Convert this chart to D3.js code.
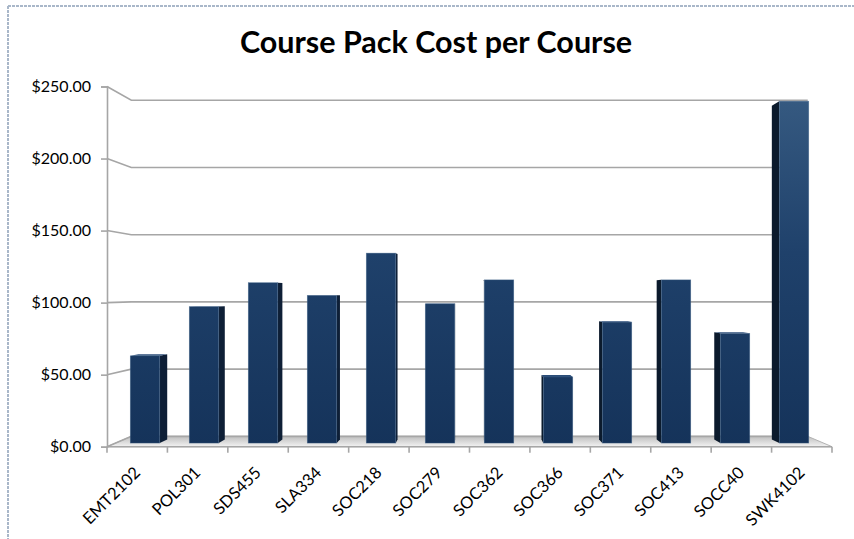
<!DOCTYPE html>
<html>
<head>
<meta charset="utf-8">
<script src="https://cdn.jsdelivr.net/npm/d3@7/dist/d3.min.js"></script>
<style>
  html, body { margin: 0; padding: 0; background: #ffffff; }
  svg { display: block; }
</style>
</head>
<body>
<script>
// ---- data ----
const categories = ["EMT2102", "POL301", "SDS455", "SLA334", "SOC218", "SOC279",
                    "SOC362", "SOC366", "SOC371", "SOC413", "SOCC40", "SWK4102"];
const costs = [62, 97, 114, 105, 135, 99, 116, 47, 86, 116, 78, 243];
const yTicks = [0, 50, 100, 150, 200, 250];
const title = "Course Pack Cost per Course";

const W = 854, H = 539;
const svg = d3.select("body").append("svg").attr("width", W).attr("height", H);

// front-plane scales
const x = d3.scaleBand().domain(categories).range([107, 832]).paddingInner(0.5).paddingOuter(0.25);
const y = d3.scaleLinear().domain([0, 250]).range([446.7, 86.5]);

// simple perspective towards a vanishing point
const VP = [470, 292];
const sBack = 0.933;
function project(px, py, t) {
  const k = 1 - t * (1 - sBack);
  return [VP[0] + (px - VP[0]) * k, VP[1] + (py - VP[1]) * k];
}
const t0 = 0.35, t1 = 0.70;
const poly = pts => "M" + pts.map(p => p.join(",")).join("L") + "Z";

const defs = svg.append("defs");
const gFront = defs.append("linearGradient").attr("id", "barFront")
  .attr("gradientUnits", "userSpaceOnUse").attr("x1", 0).attr("y1", 95).attr("x2", 0).attr("y2", 445);
gFront.append("stop").attr("offset", 0).attr("stop-color", "#365a81");
gFront.append("stop").attr("offset", 0.45).attr("stop-color", "#1f416b");
gFront.append("stop").attr("offset", 1).attr("stop-color", "#15335a");
const gFloor = defs.append("linearGradient").attr("id", "floor")
  .attr("gradientUnits", "userSpaceOnUse").attr("x1", 0).attr("y1", 436).attr("x2", 0).attr("y2", 447);
gFloor.append("stop").attr("offset", 0).attr("stop-color", "#bdbdbd");
gFloor.append("stop").attr("offset", 1).attr("stop-color", "#f4f4f4");

// chart border (dotted, top and left)
svg.append("line").attr("x1", 8).attr("y1", 6).attr("x2", W).attr("y2", 6)
  .attr("stroke", "#a9b7c9").attr("stroke-width", 2).attr("stroke-dasharray", "3,1");
svg.append("line").attr("x1", 8).attr("y1", 6).attr("x2", 8).attr("y2", H)
  .attr("stroke", "#a9b7c9").attr("stroke-width", 2).attr("stroke-dasharray", "3,1");

// title
svg.append("text").attr("x", 436).attr("y", 53).attr("text-anchor", "middle")
  .attr("font-family", "Lato, sans-serif").attr("font-weight", "bold").attr("font-size", 30.5)
  .attr("fill", "#000").text(title);

// floor
const xL = x.range()[0], xR = x.range()[1];
svg.append("path")
  .attr("d", poly([[xL, y(0)], [xR, y(0)], project(xR, y(0), 1), project(xL, y(0), 1)]))
  .attr("fill", "url(#floor)").attr("stroke", "#b3b3b3").attr("stroke-width", 1);

// gridlines: front-left -> back-left -> back-right
const grid = svg.append("g");
yTicks.forEach(v => {
  const f = [xL, y(v)], bl = project(xL, y(v), 1), br = project(xR, y(v), 1);
  grid.append("path").attr("d", "M" + f + "L" + bl + "L" + br)
    .attr("fill", "none").attr("stroke", "#a6a6a6").attr("stroke-width", 1.6);
});

// left axis
const yAxis = d3.axisLeft(y).tickValues(yTicks).tickSize(6).tickPadding(10)
  .tickFormat(d => "$" + d3.format(".2f")(d));
const ga = svg.append("g").attr("transform", `translate(${xL},0)`).call(yAxis);
ga.select(".domain").attr("stroke", "#a6a6a6").attr("stroke-width", 1.6);
ga.selectAll(".tick line").attr("stroke", "#a6a6a6").attr("stroke-width", 1.6);
ga.selectAll("text").attr("font-family", "Lato, sans-serif").attr("font-size", 16).attr("fill", "#000");

// bottom axis (front edge) with boundary ticks
const gb = svg.append("g");
gb.append("line").attr("x1", xL).attr("x2", xR).attr("y1", y(0)).attr("y2", y(0))
  .attr("stroke", "#a6a6a6").attr("stroke-width", 1.6);
const step = x.step();
d3.range(categories.length + 1).forEach(i => {
  const xx = xL + i * step;
  gb.append("line").attr("x1", xx).attr("x2", xx).attr("y1", y(0)).attr("y2", y(0) + 6)
    .attr("stroke", "#a6a6a6").attr("stroke-width", 1.6);
});

// bars
const bars = svg.append("g");
categories.forEach((c, i) => {
  const v = costs[i];
  const x0 = x(c), x1 = x(c) + x.bandwidth();
  const yt = y(v), yb = y(0);
  const cx = (x0 + x1) / 2;
  const g = bars.append("g");
  // side face
  if (cx < VP[0] - 20) {
    g.append("path").attr("d", poly([project(x1, yt, t0), project(x1, yt, t1), project(x1, yb, t1), project(x1, yb, t0)]))
      .attr("fill", "#0e1f36");
  } else if (cx > VP[0] + 20) {
    g.append("path").attr("d", poly([project(x0, yt, t0), project(x0, yt, t1), project(x0, yb, t1), project(x0, yb, t0)]))
      .attr("fill", "#0b1a2c");
  }
  // top face
  if (yt > VP[1]) {
    g.append("path").attr("d", poly([project(x0, yt, t0), project(x1, yt, t0), project(x1, yt, t1), project(x0, yt, t1)]))
      .attr("fill", "#2b4d78");
  }
  // front face
  const a = project(x0, yt, t0), b = project(x1, yb, t0);
  g.append("rect").attr("x", a[0]).attr("y", a[1]).attr("width", b[0] - a[0]).attr("height", b[1] - a[1])
    .attr("fill", "url(#barFront)").attr("stroke", "#4a6a90").attr("stroke-width", 0.6).attr("stroke-opacity", 0.6);
});

// category labels
const gl = svg.append("g");
categories.forEach(c => {
  const cx = x(c) + x.bandwidth() / 2;
  gl.append("text")
    .attr("transform", `translate(${cx + 4},${y(0) + 27}) rotate(-45)`)
    .attr("text-anchor", "end")
    .attr("font-family", "Lato, sans-serif").attr("font-size", 16.5).attr("fill", "#000")
    .text(c);
});
</script>
</body>
</html>
